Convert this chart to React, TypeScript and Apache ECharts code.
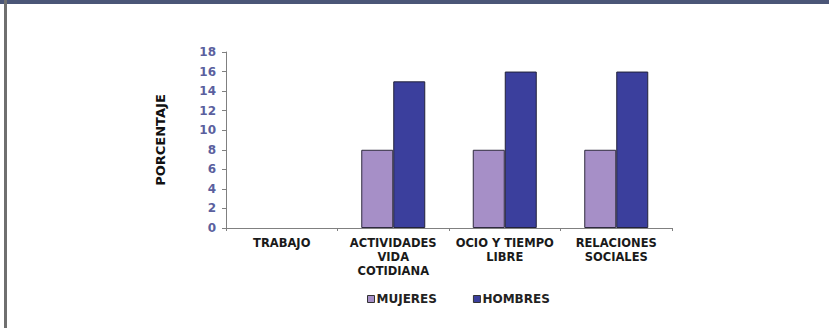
import React, { useEffect, useRef } from "react";
import * as echarts from "echarts";

const categories = ["TRABAJO", "ACTIVIDADES\nVIDA\nCOTIDIANA", "OCIO Y TIEMPO\nLIBRE", "RELACIONES\nSOCIALES"];
const mujeres = [0, 8, 8, 8];
const hombres = [0, 15, 16, 16];
const yTicks = { min: 0, max: 18, interval: 2 };

export default function App() {
  const ref = useRef<HTMLDivElement>(null);
  useEffect(() => {
    if (!ref.current) return;
    const chart = echarts.init(ref.current, null, { renderer: "svg" });
    const font = "'DejaVu Sans', Verdana, sans-serif";
    const toData = (arr: number[], border: string) =>
      arr.map((v) => (v === 0 ? { value: v, itemStyle: { borderWidth: 0 } } : { value: v, itemStyle: { borderColor: border, borderWidth: 1 } }));
    chart.setOption({
      animation: false,
      backgroundColor: "#ffffff",
      textStyle: { fontFamily: font },
      graphic: [
        { type: "rect", shape: { x: 0, y: 0, width: 829, height: 4 }, style: { fill: "#4b5677" } },
        { type: "rect", shape: { x: 4, y: 0, width: 3, height: 328 }, style: { fill: "#6f6f6f" } },
      ],
      grid: { left: 226, top: 52, width: 446, height: 176, containLabel: false },
      legend: {
        left: 362,
        top: 288,
        itemWidth: 7,
        itemHeight: 7,
        itemGap: 36,
        icon: "rect",
        textStyle: { fontFamily: font, fontWeight: "bold", fontSize: 12, color: "#222", padding: [0, 0, 0, -3] },
        data: [
          { name: "MUJERES", itemStyle: { borderColor: "#333", borderWidth: 1 } },
          { name: "HOMBRES", itemStyle: { borderColor: "#333", borderWidth: 1 } },
        ],
      },
      xAxis: {
        type: "category",
        data: categories,
        axisLine: { lineStyle: { color: "#808080", width: 1 } },
        axisTick: { show: true, length: 3, lineStyle: { color: "#808080" } },
        axisLabel: {
          interval: 0,
          margin: 8,
          fontFamily: font,
          fontWeight: "bold",
          fontSize: 11.5,
          lineHeight: 14,
          color: "#1a1a1a",
        },
      },
      yAxis: {
        type: "value",
        min: yTicks.min,
        max: yTicks.max,
        interval: yTicks.interval,
        name: "PORCENTAJE",
        nameLocation: "middle",
        nameRotate: 90,
        nameGap: 59,
        nameTextStyle: { fontFamily: font, fontWeight: "bold", fontSize: 13, color: "#111" },
        axisLine: { show: true, lineStyle: { color: "#808080", width: 1 } },
        axisTick: { show: true, length: 4, lineStyle: { color: "#808080" } },
        splitLine: { show: false },
        axisLabel: { margin: 10, fontFamily: font, fontWeight: "bold", fontSize: 12, color: "#5b5f9e" },
      },
      series: [
        {
          name: "MUJERES",
          type: "bar",
          data: toData(mujeres, "#2e2a3e"),
          barWidth: 32,
          barGap: "0%",
          itemStyle: { color: "#a68fc7", borderColor: "#2e2a3e", borderWidth: 1 },
        },
        {
          name: "HOMBRES",
          type: "bar",
          data: toData(hombres, "#22223a"),
          barWidth: 32,
          barGap: "0%",
          itemStyle: { color: "#3b3f9d", borderColor: "#22223a", borderWidth: 1 },
        },
      ],
    });
    return () => chart.dispose();
  }, []);
  return <div ref={ref} style={{ position: "fixed", left: 0, top: 0, width: 829, height: 328 }} />;
}
